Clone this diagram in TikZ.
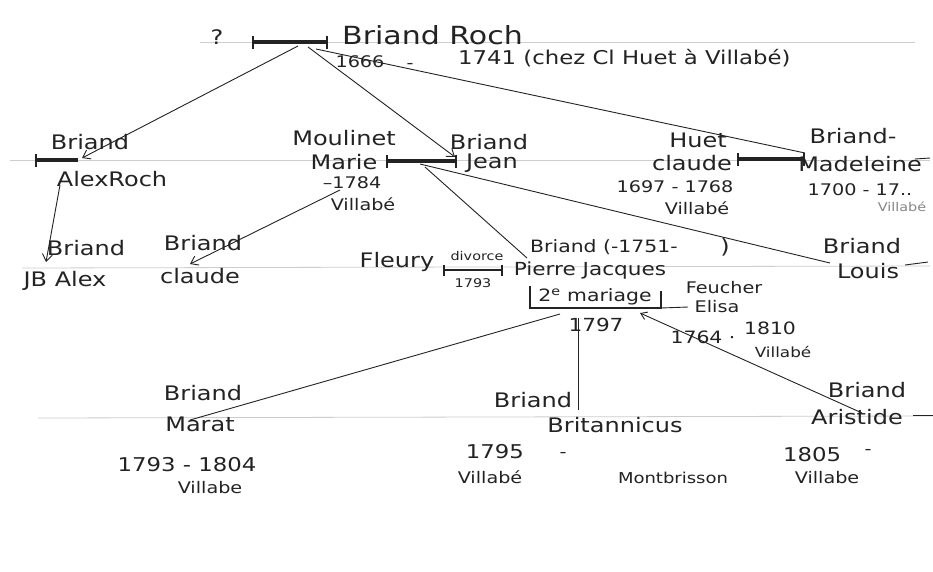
\documentclass[tikz,border=0pt]{standalone}
\usepackage{fontspec}
\setmainfont{DejaVu Sans}[FakeStretch=1.2]
\usetikzlibrary{arrows.meta}
\definecolor{ink}{RGB}{35,35,35}
\definecolor{rulec}{RGB}{205,205,205}
\begin{document}
\begin{tikzpicture}[x=1pt,y=-1pt,
  paper/.style={draw=rulec, line width=0.8pt},
  marbar/.style={draw=ink, line width=3.2pt, {Bar[width=13pt,line width=2pt]}-{Bar[width=13pt,line width=2pt]}},
  link/.style={draw=ink, line width=0.9pt},
  tipend/.style={-{Straight Barb[length=7pt,width=10pt,line width=0.9pt]}},
  tipstart/.style={{Straight Barb[length=6pt,width=8pt,line width=0.9pt]}-},
  nm/.style={text=ink, font=\fontsize{20}{22}\selectfont, inner sep=0pt},
  big/.style={text=ink, font=\fontsize{25}{27}\selectfont, inner sep=0pt},
  dt/.style={text=ink, font=\fontsize{16}{18}\selectfont, inner sep=0pt},
  dtl/.style={text=ink, font=\fontsize{19}{21}\selectfont, inner sep=0pt},
  sm/.style={text=ink, font=\fontsize{12}{13}\selectfont, inner sep=0pt}]
\useasboundingbox[fill=white] (0,0) rectangle (933,571);

% paper ruling
\coordinate (p1a) at (200,42);  \coordinate (p1b) at (915,42);
\coordinate (p2a) at (10,160);  \coordinate (p2b) at (930,160);
\coordinate (p3a) at (22,268);  \coordinate (p3b) at (930,266);
\coordinate (p4a) at (38,418);  \coordinate (p4b) at (933,416);
\draw[paper] (p1a) -- (p1b);
\draw[paper] (p2a) -- (p2b);
\draw[paper] (p3a) -- (p3b);
\draw[paper] (p4a) -- (p4b);

% marriage / relation bars
\coordinate (rochL) at (252,42); \coordinate (rochR) at (328,42);
\draw[marbar] (rochL) -- (rochR);
\coordinate (alexL) at (35,160); \coordinate (alexR) at (78,160);
\draw[draw=ink, line width=3.2pt, {Bar[width=13pt,line width=2pt]}-] (alexL) -- (alexR);
\coordinate (mjL) at (386,161); \coordinate (mjR) at (457,161);
\draw[marbar] (mjL) -- (mjR);
\coordinate (cmL) at (737,159); \coordinate (cmR) at (805,159);
\draw[marbar] (cmL) -- (cmR);
\coordinate (dvL) at (443,270); \coordinate (dvR) at (503,270);
\draw[draw=ink, line width=2.6pt, {Bar[width=11pt,line width=2pt]}-{Bar[width=11pt,line width=2pt]}] (dvL) -- (dvR);

% 2e mariage bracket
\coordinate (bxA) at (530,286); \coordinate (bxB) at (530,308);
\coordinate (bxC) at (661,308); \coordinate (bxD) at (661,291);
\coordinate (bxE) at (688,307);
\draw[link, line width=1.4pt] (bxA) -- (bxB) -- (bxC) -- (bxD);
\draw[link] (bxC) -- (bxE);

% texts
\node[nm] (q) at (217,37) {?};
\node[big, anchor=west] (roch) at (342,35) {Briand Roch};
\node[dt] (roch1) at (360,62) {1666};
\node[dt] (rochdash) at (410,66) {-};
\node[dtl, anchor=west] (roch2) at (458,58) {1741 (chez Cl Huet à Villabé)};

\node[nm] (alexA) at (90,142) {Briand};
\node[nm] (alexB) at (112,179) {AlexRoch};

\node[nm] (marA) at (344,138) {Moulinet};
\node[nm] (marB) at (344,162) {Marie};
\node[dt] (marC) at (352,183) {–1784};
\node[dt] (marD) at (363,204) {Villabé};

\node[nm] (jeanA) at (489,142) {Briand};
\node[nm] (jeanB) at (492,163) {Jean};

\node[nm] (clA) at (698,140) {Huet};
\node[nm] (clB) at (692,163) {claude};
\node[dt] (clC) at (675,187) {1697 - 1768};
\node[dt] (clD) at (697,208) {Villabé};

\node[nm] (madA) at (853,136) {Briand-};
\node[nm] (madB) at (860,164) {Madeleine};
\node[dt] (madC) at (860,190) {1700 - 17..};
\node[sm, text=ink!55] (madD) at (902,207) {Villabé};

\node[nm] (jbA) at (86,248) {Briand};
\node[nm] (jbB) at (65,281) {JB Alex};

\node[nm] (cdA) at (203,243) {Briand};
\node[nm] (cdB) at (200,276) {claude};

\node[nm] (fleury) at (397,262) {Fleury};
\node[sm] (dvA) at (477,256) {divorce};
\node[sm] (dvB) at (473,283) {1793};

\node[nm, font=\fontsize{17}{19}\selectfont, anchor=west] (pjA) at (530,247) {Briand (-1751-};
\node[nm] (pjP) at (725,247) {)};
\node[nm, font=\fontsize{18}{20}\selectfont] (pjB) at (590,271) {Pierre Jacques};
\node[dt, font=\fontsize{17}{19}\selectfont] (mar2) at (595,297) {2\textsuperscript{e} mariage};
\node[dt, font=\fontsize{18}{20}\selectfont] (y1797) at (596,325) {1797};

\node[dt] (elA) at (724,288) {Feucher};
\node[dt] (elB) at (717,307) {Elisa};
\node[dt, font=\fontsize{17}{19}\selectfont] (elC) at (703,337) {1764 ·};
\node[dt, font=\fontsize{17}{19}\selectfont] (elC2) at (770,328) {1810};
\node[dt, font=\fontsize{14}{16}\selectfont] (elD) at (783,352) {Villabé};

\node[nm] (loA) at (862,246) {Briand};
\node[nm] (loB) at (868,271) {Louis};

\node[nm] (maA) at (203,393) {Briand};
\node[nm] (maB) at (200,424) {Marat};
\node[dtl] (maC) at (187,465) {1793 - 1804};
\node[dt] (maD) at (210,488) {Villabe};

\node[nm] (brA) at (533,400) {Briand};
\node[nm] (brB) at (615,425) {Britannicus};
\node[dtl] (brC) at (495,452) {1795};
\node[dt] (brD) at (563,455) {-};
\node[dt] (brE) at (490,477) {Villabé};
\node[dt, font=\fontsize{15}{17}\selectfont] (brF) at (673,478) {Montbrisson};

\node[nm] (arA) at (867,390) {Briand};
\node[nm] (arB) at (857,417) {Aristide};
\node[dtl] (arC) at (812,455) {1805};
\node[dt] (arC2) at (868,452) {-};
\node[dt] (arD) at (827,478) {Villabe};

% connectors
\coordinate (rm1) at (298,46);
\coordinate (rm2) at (308,47);
\coordinate (rm3) at (316,49);
\coordinate (alexIn) at (82,158);
\coordinate (jeanIn) at (455,157);
\coordinate (madIn) at (805,153);
\draw[link, tipend] (rm1) -- (alexIn);
\draw[link, tipend] (rm2) -- (jeanIn);
\draw[link] (rm3) -- (madIn);

\coordinate (alexOut) at (60,185);
\coordinate (jbIn) at (46,262);
\draw[link, tipend] (alexOut) -- (jbIn);

\coordinate (marOut) at (340,190);
\coordinate (cdIn) at (190,264);
\draw[link, tipend] (marOut) -- (cdIn);

\coordinate (mjm1) at (420,164);
\coordinate (mjm2) at (425,167);
\coordinate (loIn) at (830,263);
\coordinate (pjIn) at (527,258);
\draw[link] (mjm1) -- (loIn);
\draw[link] (mjm2) -- (pjIn);

\coordinate (bxo1) at (560,314);
\coordinate (bxo2) at (578,318);
\coordinate (bxo3) at (640,313);
\coordinate (maIn) at (190,420);
\coordinate (brIn) at (578,410);
\coordinate (arIn) at (862,413);
\draw[link] (bxo1) -- (maIn);
\draw[link] (bxo2) -- (brIn);
\draw[link, tipstart] (bxo3) -- (arIn);

% small trailing strokes
\coordinate (loT1) at (905,265); \coordinate (loT2) at (928,262);
\draw[link] (loT1) -- (loT2);
\coordinate (arT1) at (913,415); \coordinate (arT2) at (933,415);
\draw[link] (arT1) -- (arT2);
\coordinate (mdT1) at (915,159); \coordinate (mdT2) at (930,158);
\draw[link] (mdT1) -- (mdT2);
\end{tikzpicture}
\end{document}
